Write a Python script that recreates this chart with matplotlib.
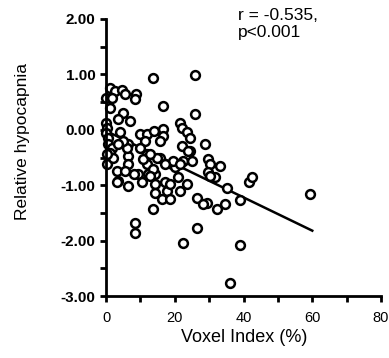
import matplotlib
matplotlib.use("Agg")
import matplotlib.pyplot as plt
from matplotlib.ticker import FixedLocator, FormatStrFormatter

plt.rcParams['font.family'] = ['Liberation Sans', 'DejaVu Sans']
plt.rcParams['axes.unicode_minus'] = False

voxel_index = [0, 1.2, 2.6, 4.7, 5.5, 8.7, 8.4, 1.7, 1.2, 4.9, 3.5, 7.0, 13.7, 16.6, 25.9, 25.9,
               0, 0.3, 0, 0.6, 4.1, 9.9, 11.9, 14.0, 16.6, 16.6, 0.6, 6.4, 11.3, 15.7, 1.7, 1.2,
               6.4, 11.9, 15.7, 0.3, 3.2, 6.4, 5.5, 9.3, 11.9, 12.2, 14.2, 3.5, 6.4, 14.2, 17.2,
               14.2, 17.7, 16.3, 18.6, 13.7, 8.4, 8.4, 22.4, 26.5, 21.5, 22.1, 23.5, 24.4, 22.1,
               28.8, 24.4, 29.7, 30.2, 33.1, 29.7, 31.7, 35.2, 39.0, 26.5, 29.4, 32.3, 34.6, 41.6,
               42.4, 59.3, 39.0, 36.0, 22.4, 19.2, 20.9, 18.6, 21.5, 23.5, 20.1, 19.5, 14.8, 10.8,
               9.9, 12.8, 6.1, 4.9, 3.5, 2.0, 3.2, 21.5, 25.0, 23.8, 28.2, 30.2, 17.2, 13.7, 12.8,
               0.3, 8.2, 10.5]
hypocapnia = [0.58, 0.76, 0.70, 0.72, 0.65, 0.65, 0.56, 0.58, 0.40, 0.31, 0.20, 0.16, 0.94, 0.43,
              0.99, 0.29, 0.13, 0.04, -0.05, -0.14, -0.04, -0.07, -0.07, -0.02, 0.02, -0.11, -0.25,
              -0.25, -0.20, -0.20, -0.32, -0.41, -0.47, -0.43, -0.50, -0.61, -0.74, -0.61, -0.74,
              -0.79, -0.61, -0.79, -0.79, -0.92, -1.01, -0.97, -0.95, -1.14, -1.10, -1.24, -1.24,
              -1.42, -1.69, -1.86, -2.04, -1.77, 0.13, 0.04, -0.04, -0.14, -0.29, -0.25, -0.38,
              -0.52, -0.61, -0.65, -0.77, -0.86, -1.05, -1.26, -1.23, -1.32, -1.42, -1.33, -0.95,
              -0.86, -1.15, -2.07, -2.77, -0.56, -0.61, -0.86, -0.97, -1.10, -0.97, -0.68, -0.56,
              -0.50, -0.52, -0.32, -0.43, -0.32, -0.20, -0.25, -0.50, -0.95, -0.61, -0.56, -0.38,
              -1.33, -0.83, -0.61, -0.70, -0.83, -0.43, -0.80, -0.95]

fit_x = [0, 60]
fit_y = [-0.02, -1.82]

x_ticks = [0, 20, 40, 60, 80]
y_ticks = [-3, -2, -1, 0, 1, 2]

fig = plt.figure(figsize=(3.89, 3.58), dpi=100)
ax = fig.add_axes([0.2725, 0.173, 0.707, 0.774])

ax.scatter(voxel_index, hypocapnia, s=40, facecolors='white', edgecolors='black',
           linewidths=1.8, clip_on=False, zorder=3)
ax.plot(fit_x, fit_y, color='black', lw=1.8, zorder=2)

ax.set_xlim(0, 80)
ax.set_ylim(-3, 2)
for s in ['top', 'right']:
    ax.spines[s].set_visible(False)
for s in ['left', 'bottom']:
    ax.spines[s].set_linewidth(2)
    ax.spines[s].set_zorder(4)

ax.xaxis.set_major_locator(FixedLocator(x_ticks))
ax.xaxis.set_minor_locator(FixedLocator([10, 30, 50, 70]))
ax.yaxis.set_major_locator(FixedLocator(y_ticks))
ax.yaxis.set_minor_locator(FixedLocator([-2.5, -1.5, -0.5, 0.5, 1.5]))
ax.yaxis.set_major_formatter(FormatStrFormatter('%.2f'))
ax.tick_params(which='both', direction='out', width=2, length=4.5, color='black')
ax.tick_params(axis='x', labelsize=10.5, pad=6)
ax.tick_params(axis='y', labelsize=11, pad=3)
for lab in ax.get_yticklabels():
    lab.set_fontweight('bold')

fig.text(0.612, 0.978, 'r = -0.535,\np<0.001', fontsize=12.5, va='top', ha='left',
         linespacing=1.15)
fig.text(0.058, 0.605, 'Relative hypocapnia', rotation=90, fontsize=12.5, ha='center', va='center')
fig.text(0.627, 0.058, 'Voxel Index (%)', fontsize=13, ha='center', va='center')

fig.savefig('out.png', dpi=100)
